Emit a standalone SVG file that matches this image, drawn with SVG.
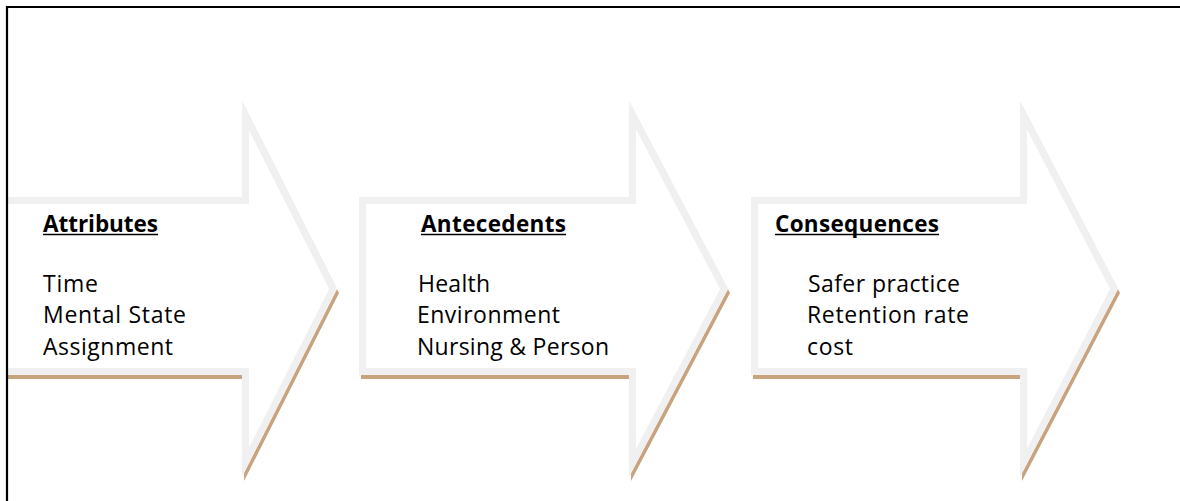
<svg xmlns="http://www.w3.org/2000/svg" xmlns:xlink="http://www.w3.org/1999/xlink" width="1180" height="501" viewBox="0 0 1180 501">
  <style>
    .shadow { fill: #c9a27e; }
    .body { fill: #ffffff; }
    .rim { fill: none; stroke: #f0f0f0; stroke-width: 14; stroke-linejoin: miter; stroke-miterlimit: 10; }
    .head { font-family: "Open Sans", "Liberation Sans", sans-serif; font-size: 22.5px; font-weight: 700; fill: #000; }
    .item { font-family: "Open Sans", "Liberation Sans", sans-serif; font-size: 23px; fill: #000; }
    .ul { stroke: #000; stroke-width: 1.6; }
    .frame { fill: none; stroke: #000; stroke-width: 2.2; }
  </style>
  <defs>
    <!-- block-arrow outlines (outer edge) -->
    <polygon id="arrow1" points="-20,197 242,197 242,101 337,289 242,477 242,375 -20,375"/>
    <polygon id="arrow2" points="359,197 629,197 629,101 728,289 629,477 629,375 359,375"/>
    <polygon id="arrow3" points="751,197 1020,197 1020,101 1118,289 1020,477 1020,375 751,375"/>
    <clipPath id="clip1"><use xlink:href="#arrow1"/></clipPath>
    <clipPath id="clip2"><use xlink:href="#arrow2"/></clipPath>
    <clipPath id="clip3"><use xlink:href="#arrow3"/></clipPath>
    <clipPath id="page"><rect x="8" y="8" width="1172" height="493"/></clipPath>
    <!-- keeps the drop shadow from running past the arrow's lower point -->
    <clipPath id="band"><rect x="0" y="0" width="1180" height="478"/></clipPath>
  </defs>

  <rect x="0" y="0" width="1180" height="501" fill="#ffffff"/>

  <g clip-path="url(#page)">
    <g id="attributes">
      <use xlink:href="#arrow1" class="shadow" transform="translate(2,4)" clip-path="url(#band)"/>
      <use xlink:href="#arrow1" class="body"/>
      <use xlink:href="#arrow1" class="rim" clip-path="url(#clip1)"/>
      <text class="head" x="43" y="232" textLength="115" lengthAdjust="spacing">Attributes</text>
      <line class="ul" x1="43" y1="234.5" x2="158" y2="234.5"/>
      <text class="item" x="43" y="292" textLength="55" lengthAdjust="spacing">Time</text>
      <text class="item" x="43" y="323" textLength="143" lengthAdjust="spacing">Mental State</text>
      <text class="item" x="43" y="355" textLength="130" lengthAdjust="spacing">Assignment</text>
    </g>

    <g id="antecedents">
      <use xlink:href="#arrow2" class="shadow" transform="translate(2,4)" clip-path="url(#band)"/>
      <use xlink:href="#arrow2" class="body"/>
      <use xlink:href="#arrow2" class="rim" clip-path="url(#clip2)"/>
      <text class="head" x="421" y="232" textLength="145" lengthAdjust="spacing">Antecedents</text>
      <line class="ul" x1="421" y1="234.5" x2="566" y2="234.5"/>
      <text class="item" x="418" y="292" textLength="72" lengthAdjust="spacing">Health</text>
      <text class="item" x="417" y="323" textLength="143" lengthAdjust="spacing">Environment</text>
      <text class="item" x="417" y="355" textLength="192" lengthAdjust="spacing">Nursing &amp; Person</text>
    </g>

    <g id="consequences">
      <use xlink:href="#arrow3" class="shadow" transform="translate(2,4)" clip-path="url(#band)"/>
      <use xlink:href="#arrow3" class="body"/>
      <use xlink:href="#arrow3" class="rim" clip-path="url(#clip3)"/>
      <text class="head" x="775" y="232" textLength="164" lengthAdjust="spacing">Consequences</text>
      <line class="ul" x1="775" y1="234.5" x2="939" y2="234.5"/>
      <text class="item" x="808" y="292" textLength="152" lengthAdjust="spacing">Safer practice</text>
      <text class="item" x="807" y="323" textLength="162" lengthAdjust="spacing">Retention rate</text>
      <text class="item" x="807" y="355" textLength="46" lengthAdjust="spacing">cost</text>
    </g>
  </g>

  <!-- page frame: left and top rules -->
  <path class="frame" d="M7,501 V7 H1180"/>
</svg>
